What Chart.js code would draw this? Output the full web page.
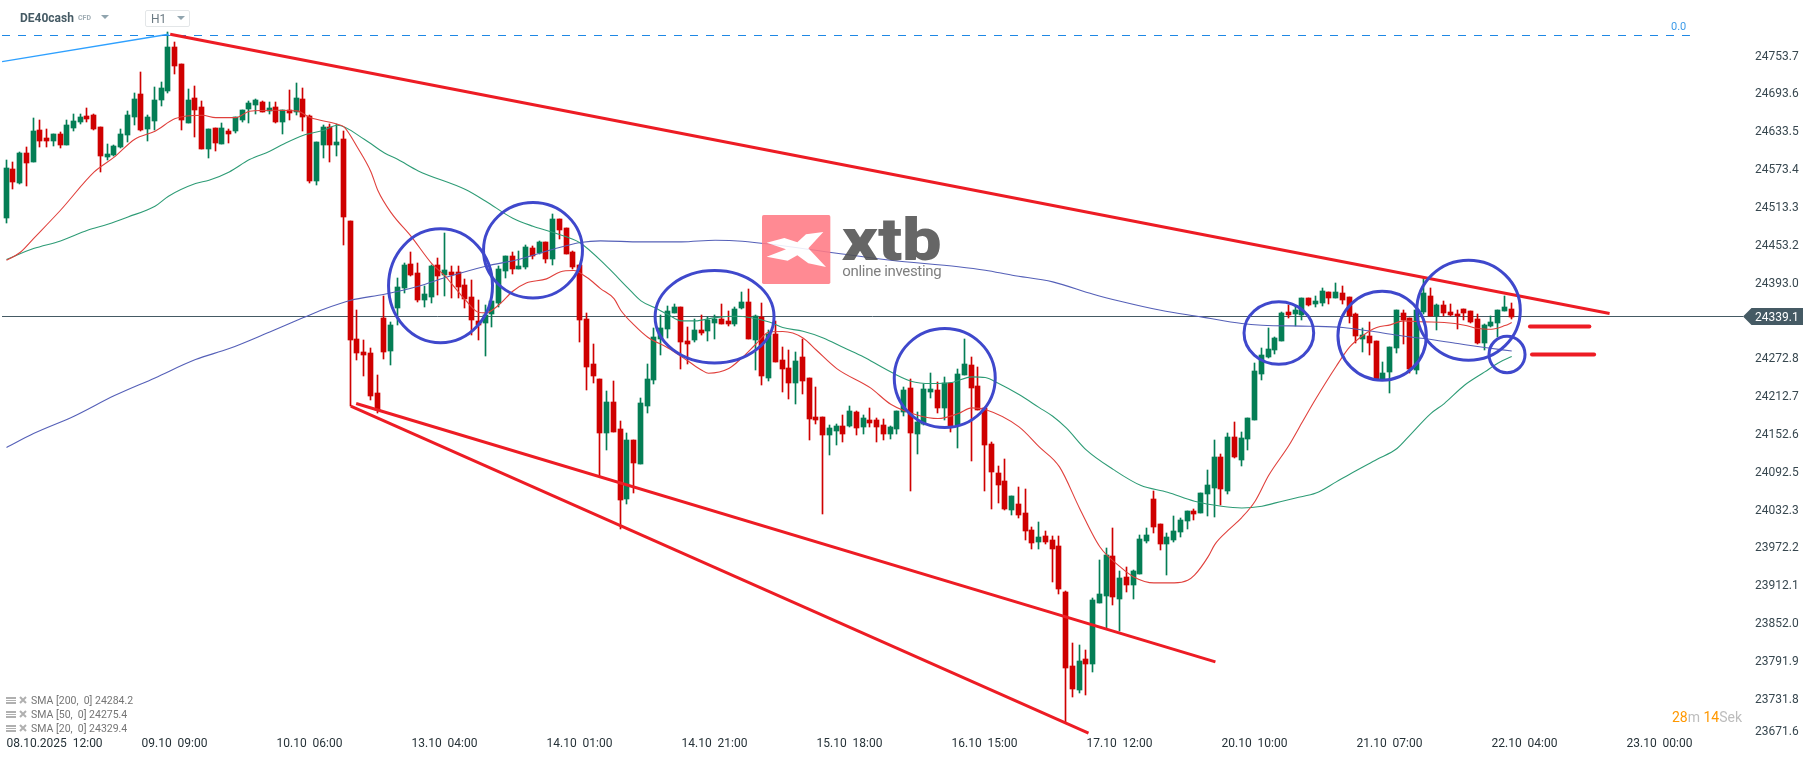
<!DOCTYPE html>
<html>
<head>
<meta charset="utf-8">
<title>DE40cash H1</title>
<script src="https://cdn.jsdelivr.net/npm/chart.js@4"></script>
<style>
  html, body { margin: 0; padding: 0; background: #fff; overflow: hidden; }
  #wrap { position: relative; width: 1815px; height: 761px; font-family: Roboto, sans-serif; }
  canvas { position: absolute; left: 0; top: 0; }
  .abs { position: absolute; white-space: pre; line-height: 1; }
  .tri { position: absolute; width: 0; height: 0; border-left: 4px solid transparent; border-right: 4px solid transparent; border-top: 4px solid #90a4ae; }
  #hbox { position: absolute; left: 145px; top: 10px; width: 43px; height: 15px; border: 1px solid #e3e6e8; border-radius: 2px; }
  .sma { color: #757575; font-size: 10.5px; left: 31px; }
  #logo { position: absolute; left: 740px; top: 200px; opacity: .88; }
</style>
</head>
<body>
<div id="wrap">
  <canvas id="chart" width="1815" height="761"></canvas>

  <div class="abs" style="left:20px;top:12px;font-size:12px;font-weight:700;color:#455a64">DE40cash</div>
  <div class="abs" style="left:78px;top:15px;font-size:7px;font-weight:700;color:#a0adb4">CFD</div>
  <div class="tri" style="left:101px;top:15px"></div>
  <div id="hbox"></div>
  <div class="abs" style="left:151px;top:13px;font-size:12px;color:#6b7a83">H1</div>
  <div class="tri" style="left:177px;top:16px"></div>

  <div class="abs" style="left:1671px;top:21px;font-size:11px;color:#3d9be9">0.0</div>

  <svg class="abs" style="left:6px;top:696px" width="22" height="40">
    <g fill="#b0b0b0">
      <rect x="0" y="1" width="10" height="2"/><rect x="0" y="4" width="10" height="1"/><rect x="0" y="6" width="10" height="2"/>
      <rect x="0" y="15" width="10" height="2"/><rect x="0" y="18" width="10" height="1"/><rect x="0" y="20" width="10" height="2"/>
      <rect x="0" y="29" width="10" height="2"/><rect x="0" y="32" width="10" height="1"/><rect x="0" y="34" width="10" height="2"/>
    </g>
    <g stroke="#b0b0b0" stroke-width="2">
      <path d="M14 1 L20 7 M20 1 L14 7"/><path d="M14 15 L20 21 M20 15 L14 21"/><path d="M14 29 L20 35 M20 29 L14 35"/>
    </g>
  </svg>
  <div class="abs sma" style="top:696px">SMA [200,  0] 24284.2</div>
  <div class="abs sma" style="top:710px">SMA [50,  0] 24275.4</div>
  <div class="abs sma" style="top:724px">SMA [20,  0] 24329.4</div>

  <div class="abs" style="left:1672px;top:710px;font-size:14px;color:#ff9800">28<span style="color:#bdbdbd">m</span> 14<span style="color:#bdbdbd">Sek</span></div>

  <svg id="logo" width="220" height="100" viewBox="0 0 660 300">
    <rect x="66" y="45" width="205" height="207" rx="5" fill="#ff7a85"/>
    <polygon fill="#fff" points="80,128 133,114 172,127 198,103 250,96 205,145 258,201 205,190 172,166 143,182 80,170 138,148"/>
    <text x="305" y="180" font-family="Roboto" font-weight="900" font-size="180" textLength="300" lengthAdjust="spacingAndGlyphs" fill="#515151">xtb</text>
    <text x="307" y="228" font-family="Roboto" font-size="45" textLength="298" lengthAdjust="spacing" fill="#6e6e6e">online investing</text>
  </svg>
</div>

<script>
// candles (one per traded hour)
const opens = [
  24495.7,24573.0,24550.8,24598.5,24584.2,24635.0,24622.3,24617.5,24628.6,24611.2,
  24638.2,24647.7,24657.2,24658.8,24639.8,24592.1,24595.3,24608.0,24627.1,24655.6,
  24692.2,24636.6,24649.3,24682.6,24696.9,24766.8,24739.8,24646.1,24685.8,24671.5,
  24604.8,24638.2,24613.8,24633.4,24633.4,24650.9,24668.4,24674.7,24679.5,24666.2,
  24671.5,24647.7,24666.8,24663.6,24684.2,24657.2,24554.0,24611.2,24639.8,24611.2,
  24620.7,24490.4,24303.0,24282.4,24280.8,24217.2,24336.4,24284.0,24352.3,24384.0,
  24422.2,24407.9,24365.0,24369.7,24420.6,24404.7,24409.4,24409.4,24388.8,24369.7,
  24331.6,24328.4,24342.7,24360.2,24411.0,24434.9,24414.2,24417.4,24447.6,24439.6,
  24457.1,24430.1,24493.6,24479.3,24441.2,24420.6,24334.8,24263.3,24239.5,24153.7,
  24202.9,24160.0,24048.9,24142.6,24104.5,24196.6,24237.9,24303.0,24318.9,24344.3,
  24353.8,24299.8,24301.4,24317.3,24315.7,24328.4,24334.8,24331.6,24326.8,24352.2,
  24361.8,24301.4,24337.9,24241.0,24310.9,24269.6,24256.9,24233.1,24274.4,24241.0,
  24179.1,24179.1,24150.5,24156.9,24164.8,24164.8,24187.0,24163.2,24174.3,24174.3,
  24166.4,24152.1,24160.0,24187.0,24225.2,24152.1,24168.0,24218.8,24222.0,24193.4,
  24233.1,24166.4,24245.8,24261.7,24228.3,24193.4,24136.2,24090.1,24077.4,24031.4,
  24040.9,24026.6,23999.6,23980.5,23990.1,23983.7,23974.1,23901.1,23783.5,23745.4,
  23794.6,23786.7,23883.6,23894.7,23958.3,23889.9,23924.9,23912.2,23929.7,23982.1,
  24048.8,24009.1,23977.3,23983.7,23996.4,24013.9,24029.7,24026.6,24056.7,24066.3,
  24115.5,24061.5,24147.3,24110.7,24144.1,24174.3,24247.4,24274.4,24285.5,24299.8,
  24345.9,24342.7,24341.1,24368.2,24358.6,24360.2,24377.7,24368.2,24376.1,24369.7,
  24342.7,24303.0,24307.8,24299.8,24239.5,24250.6,24288.7,24344.3,24336.4,24253.8,
  24345.9,24371.3,24339.6,24357.0,24345.9,24342.7,24350.7,24347.5,24334.8,24296.7,
  24323.7,24328.4,24347.5,24350.7
]
const highs = [
  24588.4,24585.2,24600.0,24608.5,24654.1,24650.9,24636.6,24628.6,24631.8,24650.9,
  24660.4,24660.4,24669.9,24660.4,24639.8,24612.8,24611.2,24636.6,24665.2,24693.8,
  24727.1,24658.8,24703.3,24711.2,24790.7,24774.8,24739.8,24700.1,24704.9,24681.1,
  24636.6,24638.2,24646.1,24636.6,24655.6,24666.8,24681.1,24684.2,24681.1,24679.5,
  24679.5,24666.8,24698.5,24709.7,24701.7,24658.8,24615.9,24642.9,24644.5,24644.5,
  24633.4,24490.4,24349.1,24301.4,24288.7,24245.8,24371.3,24330.0,24399.9,24423.7,
  24441.2,24423.7,24387.2,24420.6,24431.7,24471.4,24419.0,24419.0,24398.3,24396.7,
  24365.0,24357.0,24363.4,24419.0,24434.9,24441.2,24442.8,24452.3,24450.7,24458.7,
  24457.1,24501.6,24493.6,24479.3,24442.8,24420.6,24344.3,24295.1,24239.5,24220.4,
  24236.3,24172.8,24153.7,24142.6,24209.3,24263.3,24320.5,24341.1,24355.4,24358.6,
  24353.8,24322.1,24334.8,24341.1,24338.0,24341.1,24358.6,24347.5,24353.8,24377.7,
  24382.4,24341.1,24360.2,24317.3,24331.6,24290.3,24285.5,24282.3,24303.0,24241.0,
  24226.7,24179.1,24166.4,24168.0,24182.3,24196.6,24188.6,24182.3,24193.4,24177.5,
  24175.9,24164.8,24188.6,24226.7,24239.5,24187.0,24231.5,24249.0,24234.7,24242.6,
  24233.1,24255.3,24303.0,24274.4,24258.5,24193.4,24139.4,24101.3,24112.4,24053.6,
  24067.9,24064.7,24004.4,24012.3,23998.0,23990.1,23990.0,23902.7,23820.1,23816.9,
  23808.9,23891.5,23951.9,23971.0,24002.7,23934.4,23940.8,23936.0,23991.6,24002.7,
  24061.5,24009.1,23994.8,24021.8,24018.6,24029.7,24032.9,24058.3,24094.9,24142.5,
  24120.3,24153.6,24171.1,24155.2,24177.5,24264.8,24288.7,24320.5,24306.2,24345.9,
  24357.0,24355.4,24368.2,24368.2,24371.3,24384.0,24377.7,24392.0,24387.2,24369.7,
  24344.3,24320.5,24330.0,24299.8,24266.5,24290.3,24349.1,24349.1,24336.4,24349.1,
  24399.9,24384.0,24358.6,24363.4,24358.6,24349.1,24350.7,24347.5,24342.7,24326.9,
  24339.6,24349.1,24371.3,24360.2
]
const lows = [
  24487.8,24541.3,24549.2,24546.6,24584.2,24608.0,24608.0,24609.6,24606.4,24611.2,
  24633.4,24644.5,24647.7,24635.0,24568.3,24587.3,24593.7,24606.4,24615.9,24642.9,
  24633.4,24617.5,24635.0,24673.1,24693.8,24724.0,24635.0,24646.1,24623.9,24604.8,
  24590.5,24601.6,24612.8,24614.3,24630.2,24647.7,24646.1,24660.4,24663.6,24660.4,
  24646.1,24628.6,24650.9,24658.8,24633.4,24550.8,24547.6,24590.5,24584.2,24593.7,
  24452.3,24196.6,24269.7,24244.2,24206.1,24185.5,24271.2,24261.7,24325.3,24376.1,
  24403.1,24361.8,24353.8,24360.2,24372.9,24371.3,24368.1,24368.1,24352.3,24309.4,
  24301.4,24276.0,24322.1,24353.8,24399.9,24406.3,24414.2,24414.2,24430.1,24438.0,
  24423.7,24420.6,24461.9,24438.0,24414.2,24298.2,24222.0,24233.1,24085.4,24126.7,
  24155.3,24002.3,24040.9,24058.4,24104.5,24185.5,24231.5,24277.6,24304.6,24344.3,
  24255.4,24263.3,24298.2,24309.4,24299.8,24303.0,24326.8,24323.7,24323.7,24350.6,
  24303.0,24253.7,24229.9,24236.3,24266.5,24218.8,24207.7,24199.7,24215.6,24142.6,
  24168.0,24025.0,24118.7,24134.6,24139.4,24163.2,24150.5,24152.1,24163.2,24139.4,
  24142.6,24144.1,24152.1,24180.7,24061.5,24120.3,24166.4,24209.3,24185.4,24174.3,
  24155.3,24129.8,24245.8,24109.2,24190.2,24061.5,24032.9,24042.5,24031.4,24023.4,
  24018.6,23983.7,23969.4,23969.4,23977.4,23917.0,23897.9,23695.1,23734.3,23740.6,
  23737.5,23774.0,23883.6,23843.9,23880.4,23839.1,23901.1,23889.9,23929.7,23978.9,
  23994.8,23967.8,23928.1,23980.5,23988.4,24001.1,24015.4,24026.6,24021.8,24020.2,
  24039.3,24056.7,24113.9,24101.2,24126.6,24174.3,24237.9,24272.8,24279.2,24299.8,
  24336.4,24323.7,24333.2,24355.4,24353.9,24355.4,24358.6,24368.2,24358.6,24328.4,
  24296.7,24282.4,24277.6,24239.5,24239.5,24217.2,24280.8,24295.1,24249.0,24247.4,
  24342.7,24339.6,24317.3,24339.6,24339.6,24318.9,24333.2,24328.4,24295.1,24285.5,
  24322.1,24306.2,24347.5,24334.8
]
const closes = [
  24575.2,24552.9,24598.5,24582.6,24633.4,24617.5,24617.5,24628.6,24611.2,24642.9,
  24649.3,24655.6,24652.5,24636.6,24593.7,24596.9,24609.6,24628.6,24658.8,24684.2,
  24635.0,24655.6,24682.6,24701.7,24766.8,24736.7,24650.9,24682.6,24666.8,24604.8,
  24636.6,24614.3,24638.2,24628.6,24655.6,24666.8,24677.9,24682.6,24663.6,24669.9,
  24647.7,24666.8,24662.0,24685.8,24655.6,24554.0,24615.9,24639.8,24611.2,24615.9,
  24496.8,24301.4,24280.8,24277.6,24212.5,24190.2,24282.4,24325.3,24385.6,24420.6,
  24404.7,24365.0,24374.5,24419.0,24403.1,24412.6,24404.7,24385.6,24366.6,24333.2,
  24325.3,24341.1,24363.4,24414.2,24434.9,24414.2,24419.0,24449.2,24434.9,24457.1,
  24430.1,24493.6,24476.2,24438.0,24417.4,24333.2,24258.5,24244.2,24153.7,24202.9,
  24155.3,24047.3,24142.6,24106.0,24201.4,24239.5,24306.2,24320.5,24347.5,24353.8,
  24298.2,24295.1,24317.3,24312.5,24333.2,24334.8,24326.8,24326.8,24350.7,24361.8,
  24303.0,24339.5,24244.2,24310.9,24266.5,24255.3,24233.1,24268.0,24236.3,24175.9,
  24174.3,24150.5,24161.6,24164.8,24152.1,24188.6,24161.6,24177.5,24169.6,24163.2,
  24152.1,24163.2,24188.6,24222.0,24153.7,24171.1,24223.6,24223.6,24193.4,24233.1,
  24164.8,24247.4,24263.3,24225.2,24190.2,24134.6,24091.7,24071.1,24032.9,24053.6,
  24023.4,23998.0,23978.9,23988.5,23980.5,23969.4,23905.8,23780.3,23747.0,23791.5,
  23786.7,23888.4,23897.9,23959.8,23893.1,23923.3,23912.2,23934.4,23985.3,23991.6,
  24004.3,23977.3,23988.4,23998.0,24015.4,24029.7,24025.0,24058.3,24071.0,24115.5,
  24064.7,24147.3,24115.5,24145.7,24177.5,24252.1,24277.6,24287.1,24304.6,24344.3,
  24341.1,24349.1,24368.2,24357.0,24363.4,24379.3,24368.2,24377.7,24365.0,24339.6,
  24307.8,24309.4,24296.7,24239.5,24249.0,24290.3,24349.1,24333.2,24255.4,24349.1,
  24376.1,24339.6,24357.0,24344.3,24341.1,24339.6,24344.3,24330.0,24296.7,24325.3,
  24330.0,24349.1,24353.9,24339.1
]

// moving averages, read at the candle indexes listed next to them
const sma20_idx = [0,2,4,8,13,16,19,22,25,29,31,34,36,40,43,45,49,50,52,54,55,57,60,63,65,66,68,70,71,73,75,77,80,82,84,86,88,90,91,93,95,98,101,103,104,107,109,111,113,115,118,120,123,128,131,135,138,141,143,145,150,153,156,159,162,165,167,170,173,175,176,178,179,181,183,185,187,190,192,194,197,199,201,203,205,207,210,213,216,218,220,222,223]
const sma20_val = [24428.5,24440.7,24462.9,24507.9,24568.8,24592.6,24620.7,24633.4,24653.5,24658.8,24655.1,24655.1,24665.2,24666.8,24665.7,24655.1,24644.5,24640.3,24607.5,24568.8,24539.7,24503.7,24465.6,24423.2,24403.1,24390.4,24365.0,24345.4,24344.8,24358.1,24379.3,24392.5,24398.9,24409.9,24412.1,24401.0,24383.5,24367.6,24349.1,24325.3,24306.2,24289.2,24268.1,24253.8,24249.0,24256.4,24273.9,24295.0,24314.6,24315.2,24305.1,24285.5,24256.4,24225.7,24199.7,24182.3,24177.0,24184.9,24193.9,24191.3,24163.7,24131.9,24100.2,24033.9,23973.0,23941.3,23925.4,23915.9,23915.9,23920.1,23928.1,23957.2,23976.8,23999.6,24019.7,24046.1,24086.9,24134.6,24172.0,24208.8,24260.1,24290.8,24309.4,24321.6,24325.8,24332.1,24330.6,24329.5,24325.3,24320.0,24318.9,24324.7,24329.4]
const sma50_idx = [0,4,8,12,15,18,22,24,28,30,33,36,39,41,44,47,49,53,56,58,61,68,71,75,78,81,85,89,92,94,96,98,100,102,105,108,113,115,118,121,124,127,130,134,137,140,143,145,147,150,153,155,157,160,164,168,172,176,180,183,186,188,191,194,197,199,203,206,208,211,213,216,219,221,223]
const sma50_val = [24429.5,24447.0,24459.2,24476.2,24485.7,24497.3,24514.3,24530.2,24550.3,24555.6,24568.8,24588.4,24601.6,24612.8,24627.1,24635.0,24642.9,24620.7,24599.0,24588.4,24570.4,24540.8,24522.2,24495.2,24482.5,24472.4,24456.0,24417.9,24385.1,24363.9,24353.3,24342.2,24332.1,24332.1,24337.4,24339.5,24330.5,24321.5,24315.7,24305.1,24289.8,24274.9,24256.9,24236.3,24232.6,24234.2,24243.2,24242.1,24232.6,24215.1,24194.4,24180.6,24162.1,24126.7,24095.9,24071.0,24059.9,24045.6,24037.7,24035.0,24037.7,24043.0,24050.9,24058.6,24076.4,24088.6,24111.9,24129.4,24151.6,24184.9,24200.8,24229.9,24251.1,24265.4,24275.4]
const sma200_idx = [0,4,10,16,22,28,33,39,44,47,51,56,61,65,71,76,81,85,88,94,100,105,109,123,131,141,145,149,155,161,165,171,177,183,186,193,198,202,206,210,215,219,223]
const sma200_val = [24130.9,24153.1,24180.7,24213.5,24241.6,24270.7,24288.2,24314.6,24337.4,24350.6,24364.9,24374.5,24387.2,24401.0,24419.0,24430.1,24446.0,24456.6,24459.2,24457.6,24457.6,24460.3,24458.7,24439.6,24428.5,24418.2,24412.6,24404.7,24394.1,24374.5,24363.4,24349.0,24338.5,24327.9,24325.3,24323.7,24321.6,24316.0,24309.4,24304.1,24296.1,24289.8,24284.2]

// axis ticks
const x_ticks = [0,20,40,60,80,100,120,140,160,180,200,220,240]
const x_labels = ["08.10.2025  12:00","09.10  09:00","10.10  06:00","13.10  04:00","14.10  01:00","14.10  21:00","15.10  18:00","16.10  15:00","17.10  12:00","20.10  10:00","21.10  07:00","22.10  04:00","23.10  00:00"]
const y_ticks = [24753.7,24693.6,24633.5,24573.4,24513.3,24453.2,24393.0,24272.8,24212.7,24152.6,24092.5,24032.3,23972.2,23912.1,23852.0,23791.9,23731.8,23680.0]
const y_labels = ["24753.7","24693.6","24633.5","24573.4","24513.3","24453.2","24393.0","24272.8","24212.7","24152.6","24092.5","24032.3","23972.2","23912.1","23852.0","23791.9","23731.8","23671.6"]

// hand drawn analysis on the chart: lines as [index, price] ends, circles as centre and half sizes
const last_price = 24339.1
const fib_level = 24785.5
const upper_line = [[24.25,24787.5],[237.5,24343.8]]
const middle_line = [[51.8,24200.9],[179.1,23790.4]]
const lower_line = [[51.0,24196.6],[160.3,23677.1]]
const blue_line = [[-0.66,24744.1],[24,24787.5]]
const level_a = [[225.7,24323.2],[234.5,24323.2]]
const level_b = [[226.0,24278.7],[235.2,24278.7]]
const circle_x = [64.3,78.0,104.9,139.0,188.5,203.8,216.6,222.3]
const circle_y = [24388.0,24444.4,24338.7,24241.4,24312.8,24308.6,24349.1,24278.8]
const circle_rx = [7.7,7.33,8.81,7.48,5.16,6.55,7.67,2.67]
const circle_ry = [90.5,75.8,73.4,78.6,49.6,70.7,79.4,28.9]

const UP = "#047e55"
const DOWN = "#cf0000"
const X_MIN = -0.6667
const X_MAX = 257.26

function zip(xs, ys) {
  return xs.map((x, i) => ({ x: x, y: ys[i] }))
}

function pairs(list) {
  return list.map(p => ({ x: p[0], y: p[1] }))
}

function lineSet(data, color, width, order, extra) {
  return Object.assign({
    type: "line",
    data: data,
    borderColor: color,
    borderWidth: width,
    pointRadius: 0,
    fill: false,
    order: order
  }, extra || {})
}

const candle_colors = closes.map((c, i) => c >= opens[i] ? UP : DOWN)

// candles land on whole pixels in the original, so snap the bars
const snapBars = {
  id: "snapBars",
  beforeDatasetsDraw(chart) {
    chart.data.datasets.forEach((ds, i) => {
      if (ds.type == "line") return
      chart.getDatasetMeta(i).data.forEach(el => {
        el.x = Math.floor(el.x - 0.5 + 1e-6) + 0.5
        let top = Math.round(Math.min(el.y, el.base))
        let bottom = Math.round(Math.max(el.y, el.base))
        if (bottom == top) bottom = top + 1
        el.y = top
        el.base = bottom
      })
    })
  }
}

const overlays = {
  id: "overlays",
  afterDatasetsDraw(chart) {
    const ctx = chart.ctx
    const xs = chart.scales.x
    const ys = chart.scales.y
    ctx.save()
    ctx.strokeStyle = "#3f48cc"
    ctx.lineWidth = 3
    circle_x.forEach((cx, i) => {
      let px = xs.getPixelForValue(cx)
      let py = ys.getPixelForValue(circle_y[i])
      let rx = xs.getPixelForValue(cx + circle_rx[i]) - px
      let ry = py - ys.getPixelForValue(circle_y[i] + circle_ry[i])
      ctx.beginPath()
      ctx.ellipse(px, py, rx, ry, 0, 0, Math.PI * 2)
      ctx.stroke()
    })
    ctx.restore()
  },
  afterDraw(chart) {
    // last price tag on the axis
    const ctx = chart.ctx
    const py = Math.floor(chart.scales.y.getPixelForValue(last_price)) + 0.5
    ctx.save()
    ctx.fillStyle = "#455a64"
    ctx.beginPath()
    ctx.moveTo(1743, py)
    ctx.lineTo(1751.5, py - 8.5)
    ctx.lineTo(1803, py - 8.5)
    ctx.lineTo(1803, py + 8.5)
    ctx.lineTo(1751.5, py + 8.5)
    ctx.closePath()
    ctx.fill()
    ctx.fillStyle = "#ffffff"
    ctx.font = "12px Roboto"
    ctx.textBaseline = "middle"
    ctx.fillText(last_price.toFixed(1), 1755, py + 1)
    ctx.restore()
  }
}

new Chart(document.getElementById("chart"), {
  type: "bar",
  data: {
    datasets: [
      { data: closes.map((c, i) => ({ x: i, y: [lows[i], highs[i]] })), backgroundColor: candle_colors, barThickness: 1, grouped: false, order: 9 },
      { data: closes.map((c, i) => ({ x: i, y: [Math.min(opens[i], c), Math.max(opens[i], c)] })), backgroundColor: candle_colors, barThickness: 5, grouped: false, order: 8 },
      lineSet([{ x: X_MIN, y: last_price }, { x: X_MAX, y: last_price }], "#455a64", 1, 10),
      lineSet(zip(sma200_idx, sma200_val), "#5560b8", 1.1, 7, { cubicInterpolationMode: "monotone" }),
      lineSet(zip(sma50_idx, sma50_val), "#2e9c76", 1.1, 6, { cubicInterpolationMode: "monotone" }),
      lineSet(zip(sma20_idx, sma20_val), "#e0403c", 1.1, 5, { cubicInterpolationMode: "monotone" }),
      lineSet([{ x: X_MIN, y: fib_level }, { x: 249.4, y: fib_level }], "#1e88e5", 1, 4, { borderDash: [8, 8] }),
      lineSet(pairs(blue_line), "#2ea0ff", 1.3, 4),
      lineSet(pairs(upper_line), "#ed1c24", 3, 3),
      lineSet(pairs(middle_line), "#ed1c24", 3, 3),
      lineSet(pairs(lower_line), "#ed1c24", 3, 3),
      lineSet(pairs(level_a), "#ed1c24", 4, 3, { borderCapStyle: "round" }),
      lineSet(pairs(level_b), "#ed1c24", 4, 3, { borderCapStyle: "round" })
    ]
  },
  options: {
    responsive: false,
    animation: false,
    events: [],
    layout: { autoPadding: false, padding: { left: 2, right: 0, top: 0, bottom: 0 } },
    plugins: { legend: { display: false }, tooltip: { enabled: false } },
    scales: {
      x: {
        type: "linear",
        offset: false,
        min: X_MIN,
        max: X_MAX,
        grid: { display: false, drawTicks: false },
        border: { display: false },
        afterBuildTicks: axis => { axis.ticks = x_ticks.map(v => ({ value: v })) },
        afterFit: axis => {
          axis.height = 26
          axis.paddingLeft = 0
          axis.paddingRight = 0
        },
        ticks: {
          autoSkip: false,
          maxRotation: 0,
          align: "start",
          padding: 2,
          color: "#263238",
          font: { family: "Roboto", size: 12 },
          callback: (v, i) => x_labels[i]
        }
      },
      y: {
        type: "linear",
        position: "right",
        min: 23674.3,
        max: 24841.9,
        grid: { display: false, drawTicks: false },
        border: { display: false },
        afterBuildTicks: axis => { axis.ticks = y_ticks.map(v => ({ value: v })) },
        // tick padding would otherwise be added above and below the plot
        afterFit: axis => {
          axis.width = 72
          axis.paddingTop = 0
          axis.paddingBottom = 0
        },
        ticks: {
          autoSkip: false,
          padding: 12,
          labelOffset: 1,
          crossAlign: "near",
          color: "#37474f",
          font: { family: "Roboto", size: 12 },
          callback: (v, i) => y_labels[i]
        }
      }
    }
  },
  plugins: [snapBars, overlays]
})
</script>
</body>
</html>
